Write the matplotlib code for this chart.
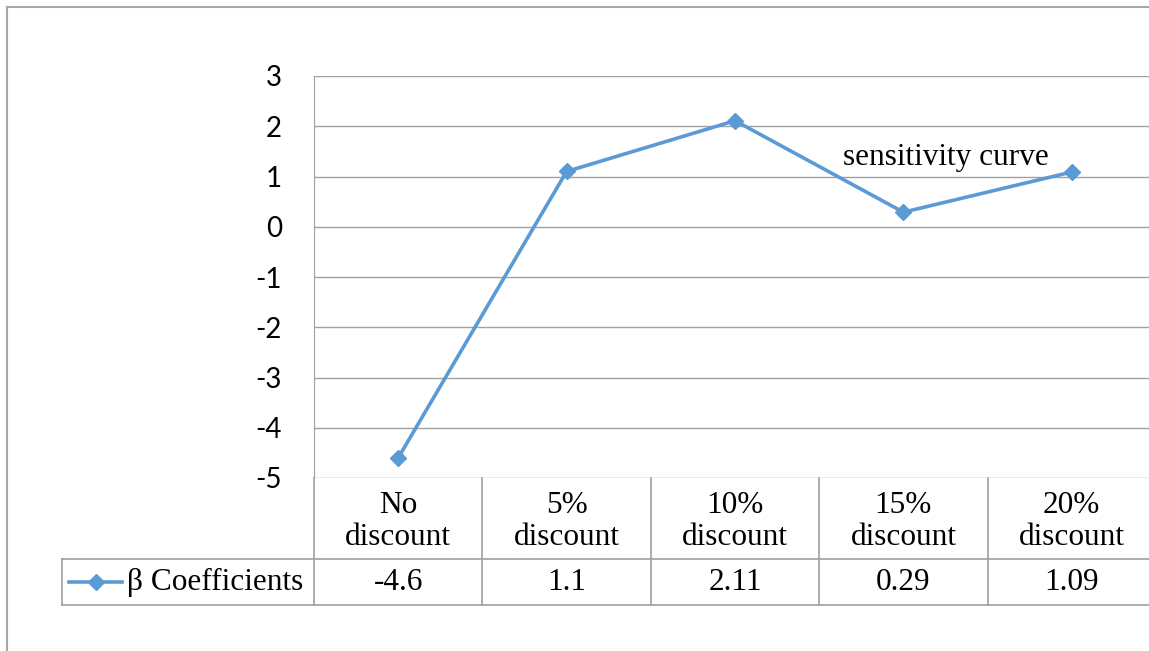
import matplotlib.pyplot as plt
from matplotlib.lines import Line2D

# data
categories = ["No\ndiscount", "5%\ndiscount", "10%\ndiscount", "15%\ndiscount", "20%\ndiscount"]
beta = [-4.6, 1.1, 2.11, 0.29, 1.09]
beta_labels = ["-4.6", "1.1", "2.11", "0.29", "1.09"]
y_ticks = [3, 2, 1, 0, -1, -2, -3, -4, -5]
series_name = "β Coefficients"

W, H = 1149, 651
blue = "#5B9BD5"
grid = "#A0A0A0"
serif = ["Liberation Serif", "DejaVu Serif"]

fig = plt.figure(figsize=(W / 100, H / 100), dpi=100)

# plot area in pixels: left 314, top 76, bottom 478, right 1156 (cut off)
px_left, px_right, px_top, px_bot = 314, 1156, 76, 478
ax = fig.add_axes([px_left / W, 1 - px_bot / H, (px_right - px_left) / W, (px_bot - px_top) / H])
xs = [i + 0.5 for i in range(len(beta))]
ax.plot(xs, beta, color=blue, lw=2.6, marker="D", ms=8.5, clip_on=False, zorder=3)
ax.set_xlim(0, len(beta))
ax.set_ylim(-5, 3)
ax.set_yticks(y_ticks)
ax.set_yticklabels([str(t) for t in y_ticks], fontsize=20, fontfamily="Lato")
ax.tick_params(axis="y", length=0, pad=23)
ax.set_xticks([])
ax.grid(axis="y", color=grid, lw=1)
for s in ["top", "right", "bottom"]:
    ax.spines[s].set_visible(False)
ax.spines["left"].set_color(grid)
ax.text(3.75, 1.37, "sensitivity curve", fontsize=22.5, family=serif, ha="center", va="center")

# data table below the plot
tb_left, tb_bot = 62, 605
unit = (px_right - px_left) / len(beta)
tab = fig.add_axes([tb_left / W, 1 - tb_bot / H, (px_right - tb_left) / W, (tb_bot - px_bot) / H])
x0 = -(px_left - tb_left) / unit
tab.set_xlim(x0, len(beta))
tab.set_ylim(0, tb_bot - px_bot)
tab.axis("off")
row_y = tb_bot - 559
lk = dict(color=grid, lw=1.2, clip_on=False)
tab.plot([x0, len(beta)], [0, 0], **lk)
tab.plot([x0, len(beta)], [row_y, row_y], **lk)
tab.plot([x0, x0], [0, row_y], **lk)
for i in range(len(beta) + 1):
    tab.plot([i, i], [0, tb_bot - px_bot], **lk)
for i, (c, v) in enumerate(zip(categories, beta_labels)):
    tab.text(i + 0.5, (row_y + tb_bot - px_bot) / 2 - 3, c, ha="center", va="center",
             fontsize=22.5, family=serif, linespacing=1.15)
    tab.text(i + 0.5, row_y / 2, v, ha="center", va="center", fontsize=22.5, family=serif)

# legend key in the table
lx0 = x0 + (69 - tb_left) / unit
lx1 = x0 + (122 - tb_left) / unit
tab.plot([lx0, lx1], [row_y / 2, row_y / 2], color=blue, lw=2.6)
tab.plot([(lx0 + lx1) / 2], [row_y / 2], color=blue, marker="D", ms=8.5)
tab.text(x0 + (127 - tb_left) / unit, row_y / 2, series_name, ha="left", va="center",
         fontsize=22.5, family=serif)

# chart frame
fig.add_artist(Line2D([7 / W, 1], [1 - 7 / H, 1 - 7 / H], color="#A6A6A6", lw=1.5))
fig.add_artist(Line2D([7 / W, 7 / W], [0, 1 - 7 / H], color="#A6A6A6", lw=1.5))

fig.savefig("out.png", dpi=100)
